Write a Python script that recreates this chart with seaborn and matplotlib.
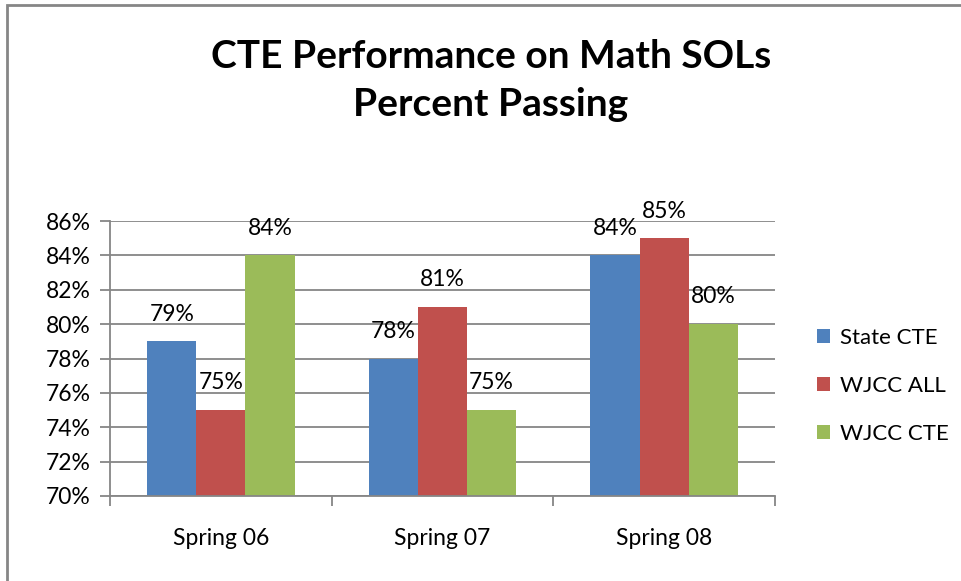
import matplotlib
matplotlib.use("Agg")
import matplotlib.pyplot as plt
import seaborn as sns
import pandas as pd
from matplotlib.patches import Rectangle

categories = ["Spring 06", "Spring 07", "Spring 08"]
series = ["State CTE", "WJCC ALL", "WJCC CTE"]
state_cte = [79, 78, 84]
wjcc_all = [75, 81, 85]
wjcc_cte = [84, 75, 80]
yticks = [70, 72, 74, 76, 78, 80, 82, 84, 86]
colors = ["#4F81BD", "#C0504D", "#9BBB59"]

rows = []
for s, vals in zip(series, [state_cte, wjcc_all, wjcc_cte]):
    for c, v in zip(categories, vals):
        rows.append({"cat": c, "series": s, "val": v})
df = pd.DataFrame(rows)

sns.set_theme(style="white")
plt.rcParams['font.family'] = ['Lato', 'DejaVu Sans']
plt.rcParams['text.color'] = 'black'

FS = 16.5

fig = plt.figure(figsize=(9.61, 5.81), dpi=100)
ax = fig.add_axes([110/961, 1-496/581, 665/961, 275/581])

sns.barplot(data=df, x="cat", y="val", hue="series", palette=colors,
            width=0.665, gap=0, ax=ax, saturation=1, edgecolor="none",
            errorbar=None)

ax.set_ylim(70, 86)
ax.set_xlim(-0.5, 2.5)
ax.set_yticks(yticks)
ax.set_yticklabels([f"{t}%" for t in yticks], fontsize=FS, color="black")
ax.set_xticks(range(len(categories)))
ax.set_xticklabels(categories, fontsize=FS, color="black")
ax.set_xlabel("")
ax.set_ylabel("")
ax.yaxis.grid(True, color="#868686", linewidth=1.3)
ax.set_axisbelow(True)
for sp in ["top", "right"]:
    ax.spines[sp].set_visible(False)
for sp in ["left", "bottom"]:
    ax.spines[sp].set_color("#868686")
    ax.spines[sp].set_linewidth(1.3)
ax.tick_params(axis="y", length=7, color="#868686", width=1.3, pad=7, left=True)
ax.tick_params(axis="x", length=0, pad=23)
ax.set_xticks([-0.5, 0.5, 1.5, 2.5], minor=True)
ax.tick_params(axis="x", which="minor", length=7, color="#868686", width=1.3, bottom=True)

for cont in ax.containers:
    for bar in cont:
        h = bar.get_height()
        ax.annotate(f"{int(round(h))}%", (bar.get_x() + bar.get_width()/2, h),
                    xytext=(0, 12), textcoords="offset points",
                    ha="center", va="bottom", fontsize=FS, color="black",
                    annotation_clip=False)

handles, labels = ax.get_legend_handles_labels()
ax.legend(handles, labels, loc="center left", bbox_to_anchor=((808-110)/665, (496-386)/275),
          frameon=False, fontsize=16, handlelength=0.6, handleheight=0.6,
          labelspacing=1.25, handletextpad=0.45, borderaxespad=0)

fig.text(491/961, 1-57/581, "CTE Performance on Math SOLs", ha="center", va="center",
         fontsize=28, fontweight="bold", color="black")
fig.text(491/961, 1-105/581, "Percent Passing", ha="center", va="center",
         fontsize=28, fontweight="bold", color="black")

fig.patches.append(Rectangle((7/961, -0.1), 1.1, 1 - 5/581 + 0.1, transform=fig.transFigure,
                             fill=False, edgecolor="#868686", linewidth=2))

fig.savefig("out.png", dpi=100)
